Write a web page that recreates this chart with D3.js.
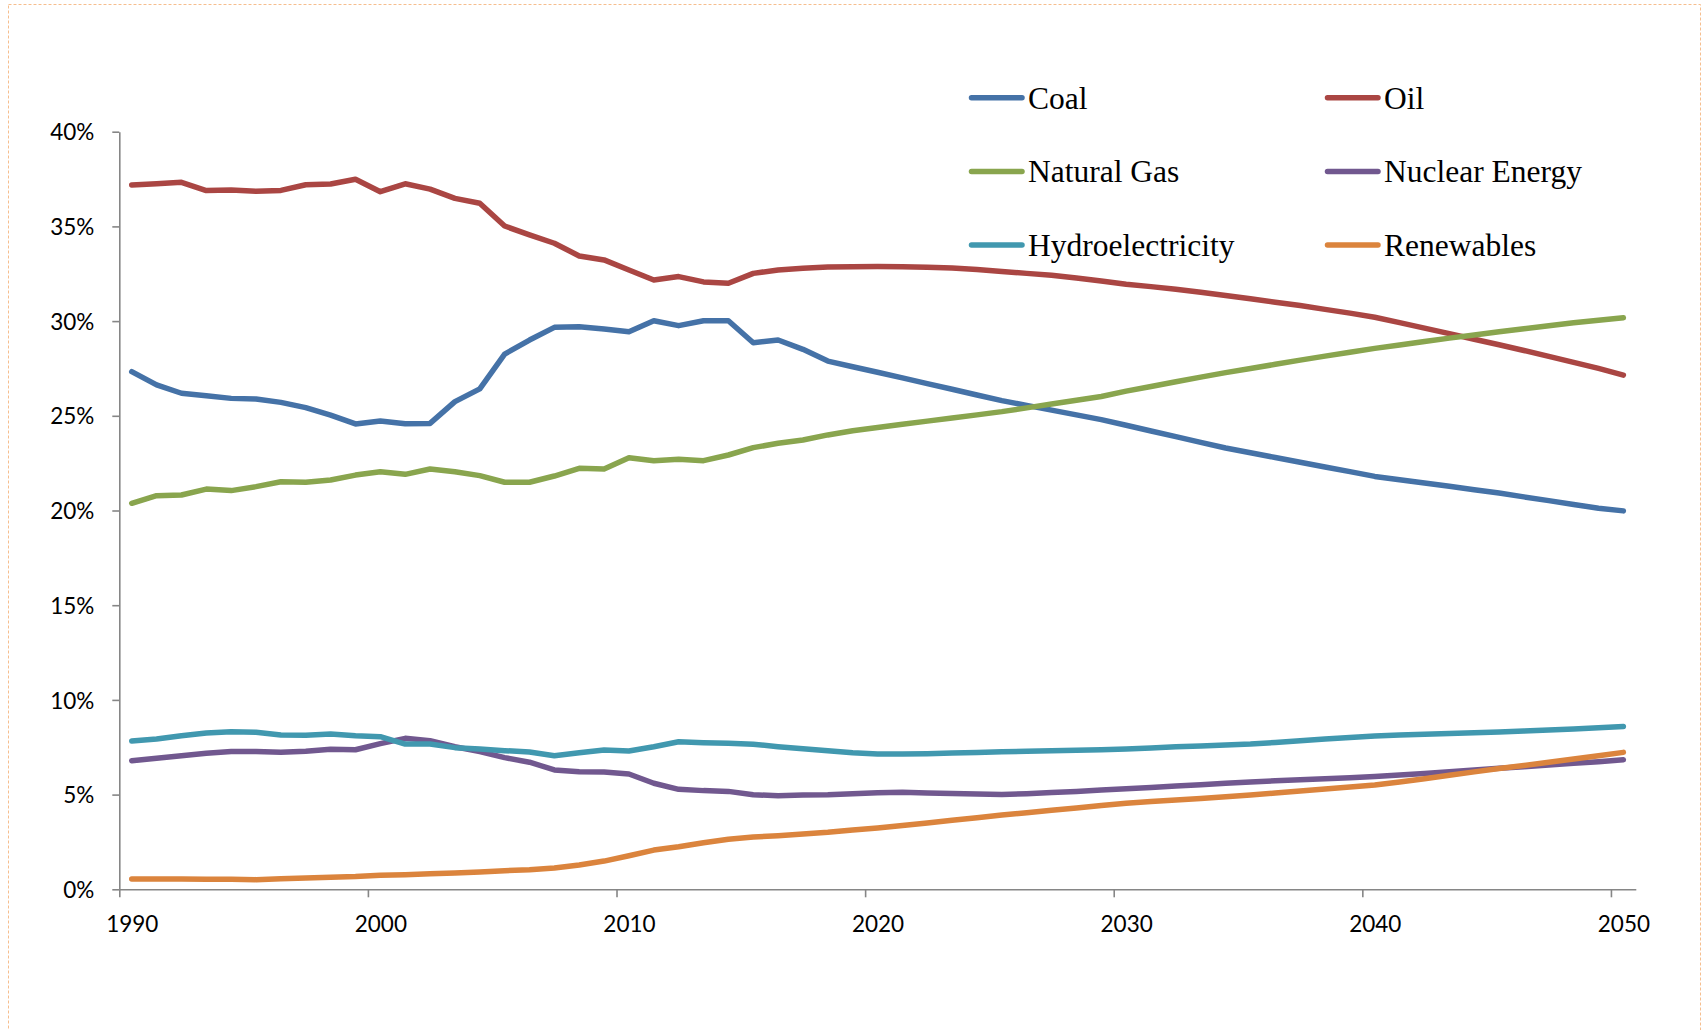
<!DOCTYPE html>
<html>
<head>
<meta charset="utf-8">
<script src="https://cdn.jsdelivr.net/npm/d3@7"></script>
<style>
  html, body { margin: 0; padding: 0; background: #ffffff; }
  svg { display: block; }
</style>
</head>
<body>
<svg id="chart" width="1704" height="1030"></svg>
<script>
// ---- Data ----
const years = d3.range(1990, 2051);

const seriesNames = ["Coal", "Oil", "Natural Gas", "Nuclear Energy", "Hydroelectricity", "Renewables"];
const seriesColors = ["#4572A7", "#AA4643", "#89A54E", "#71588F", "#4198AF", "#DB843D"];

const coal = [
  27.33, 26.63, 26.19, 26.06, 25.92, 25.89, 25.71, 25.43, 25.04, 24.57,
  24.73, 24.58, 24.60, 25.75, 26.42, 28.26, 29.00, 29.67, 29.70, 29.58,
  29.44, 30.02, 29.76, 30.02, 30.02, 28.86, 29.00, 28.51, 27.89, 27.59,
  27.30, 27.00, 26.70, 26.40, 26.10, 25.80, 25.55, 25.30, 25.05, 24.80,
  24.50, 24.20, 23.90, 23.60, 23.30, 23.05, 22.80, 22.55, 22.30, 22.05,
  21.80, 21.62, 21.45, 21.28, 21.10, 20.92, 20.72, 20.52, 20.32, 20.12,
  19.98
];
const oil = [
  37.19, 37.25, 37.33, 36.89, 36.92, 36.85, 36.90, 37.20, 37.24, 37.49,
  36.83, 37.25, 36.97, 36.48, 36.22, 35.02, 34.55, 34.11, 33.44, 33.23,
  32.70, 32.17, 32.35, 32.07, 32.00, 32.52, 32.70, 32.79, 32.86, 32.87,
  32.88, 32.87, 32.84, 32.80, 32.72, 32.62, 32.52, 32.42, 32.28, 32.12,
  31.95, 31.82, 31.68, 31.52, 31.35, 31.18, 31.00, 30.82, 30.62, 30.42,
  30.20, 29.92, 29.63, 29.34, 29.04, 28.75, 28.45, 28.14, 27.82, 27.50,
  27.15
];
const naturalGas = [
  20.38, 20.78, 20.82, 21.13, 21.05, 21.26, 21.52, 21.49, 21.61, 21.87,
  22.05, 21.91, 22.19, 22.05, 21.84, 21.49, 21.49, 21.82, 22.23, 22.19,
  22.79, 22.63, 22.70, 22.63, 22.93, 23.32, 23.55, 23.72, 23.99, 24.21,
  24.38, 24.55, 24.72, 24.88, 25.05, 25.22, 25.42, 25.62, 25.82, 26.02,
  26.30, 26.55, 26.80, 27.04, 27.28, 27.50, 27.72, 27.94, 28.15, 28.36,
  28.56, 28.74, 28.92, 29.10, 29.27, 29.44, 29.60, 29.76, 29.91, 30.05,
  30.18
];
const nuclear = [
  6.79, 6.92, 7.05, 7.18, 7.27, 7.27, 7.23, 7.29, 7.39, 7.37,
  7.69, 7.97, 7.85, 7.53, 7.27, 6.95, 6.71, 6.30, 6.21, 6.19,
  6.09, 5.60, 5.28, 5.21, 5.17, 4.99, 4.94, 4.98, 4.99, 5.05,
  5.10, 5.12, 5.09, 5.06, 5.03, 5.00, 5.05, 5.11, 5.17, 5.24,
  5.31, 5.38, 5.45, 5.52, 5.60, 5.67, 5.73, 5.78, 5.84, 5.89,
  5.95, 6.03, 6.12, 6.21, 6.30, 6.39, 6.47, 6.56, 6.65, 6.74,
  6.84
];
const hydro = [
  7.83, 7.94, 8.11, 8.25, 8.32, 8.29, 8.15, 8.13, 8.20, 8.11,
  8.06, 7.67, 7.67, 7.48, 7.41, 7.32, 7.25, 7.05, 7.21, 7.35,
  7.30, 7.53, 7.79, 7.74, 7.71, 7.66, 7.53, 7.42, 7.32, 7.21,
  7.14, 7.14, 7.16, 7.19, 7.22, 7.26, 7.29, 7.31, 7.34, 7.37,
  7.41, 7.46, 7.52, 7.57, 7.62, 7.67, 7.75, 7.84, 7.93, 8.02,
  8.10, 8.15, 8.19, 8.23, 8.27, 8.31, 8.36, 8.41, 8.46, 8.53,
  8.60
];
const renewables = [
  0.54, 0.54, 0.54, 0.53, 0.53, 0.51, 0.56, 0.60, 0.63, 0.67,
  0.74, 0.77, 0.82, 0.86, 0.91, 0.98, 1.03, 1.12, 1.28, 1.49,
  1.77, 2.07, 2.25, 2.46, 2.64, 2.76, 2.83, 2.92, 3.01, 3.13,
  3.24, 3.37, 3.50, 3.64, 3.78, 3.92, 4.04, 4.17, 4.29, 4.42,
  4.54, 4.63, 4.72, 4.80, 4.89, 4.98, 5.08, 5.19, 5.30, 5.40,
  5.51, 5.67, 5.84, 6.02, 6.20, 6.38, 6.54, 6.71, 6.88, 7.05,
  7.23
];

const yTicks = [0, 5, 10, 15, 20, 25, 30, 35, 40];
const xLabelYears = [1990, 2000, 2010, 2020, 2030, 2040, 2050];

const seriesValues = [coal, oil, naturalGas, nuclear, hydro, renewables];

// ---- Layout ----
const svg = d3.select("#chart");
const axisColor = "#868686";

// outer dotted border (bottom edge lies beyond the picture)
svg.append("rect")
  .attr("x", 8.5).attr("y", 4.5)
  .attr("width", 1692).attr("height", 1040)
  .attr("fill", "none")
  .attr("stroke", "#F6BE8E")
  .attr("stroke-width", 1)
  .attr("stroke-dasharray", "3,2");

const x = d3.scaleLinear().domain([1989.5, 2050.5]).range([119.3, 1635.8]);
const y = d3.scaleLinear().domain([0, 40]).range([889.3, 131.7]);

// Y axis
const yAxis = svg.append("g")
  .attr("transform", `translate(${x(1989.5)},0)`)
  .call(d3.axisLeft(y).tickValues(yTicks).tickFormat(d => d + "%").tickSize(7).tickSizeOuter(0).tickPadding(18));
yAxis.select(".domain").attr("stroke", axisColor).attr("stroke-width", 1.6);
yAxis.selectAll(".tick line").attr("stroke", axisColor).attr("stroke-width", 1.6);
yAxis.selectAll(".tick text")
  .attr("font-family", "Lato, 'Open Sans', sans-serif")
  .attr("font-size", 22.5)
  .attr("fill", "#000")
  .attr("dy", "0.36em");

// X axis tick marks at category boundaries
const boundaryTicks = xLabelYears.slice(0, -1).map(v => v - 0.5).concat([2049.5]);
const xAxis = svg.append("g")
  .attr("transform", `translate(0,${y(0)})`)
  .call(d3.axisBottom(x).tickValues(boundaryTicks).tickFormat("").tickSize(8).tickSizeOuter(0));
xAxis.select(".domain").attr("stroke", axisColor).attr("stroke-width", 1.6);
xAxis.selectAll(".tick line").attr("stroke", axisColor).attr("stroke-width", 1.6);

// X axis labels centered on categories
const xLabels = svg.append("g")
  .attr("transform", `translate(0,${y(0)})`)
  .call(d3.axisBottom(x).tickValues(xLabelYears).tickFormat(d3.format("d")).tickSize(0).tickSizeOuter(0));
xLabels.select(".domain").remove();
xLabels.selectAll(".tick text")
  .attr("font-family", "Lato, 'Open Sans', sans-serif")
  .attr("font-size", 22.5)
  .attr("fill", "#000")
  .attr("y", 43)
  .attr("dy", 0);

// Lines
const line = d3.line()
  .x((d, i) => x(years[i]))
  .y(d => y(d));

seriesValues.forEach((vals, i) => {
  svg.append("path")
    .datum(vals)
    .attr("fill", "none")
    .attr("stroke", seriesColors[i])
    .attr("stroke-width", 5.5)
    .attr("stroke-linejoin", "round")
    .attr("stroke-linecap", "round")
    .attr("d", line);
});

// Legend
const legendCols = [969, 1325];
const legendRows = [97.7, 171.4, 245];
const legend = svg.append("g");
seriesNames.forEach((name, i) => {
  const cx = legendCols[i % 2];
  const cy = legendRows[Math.floor(i / 2)];
  legend.append("line")
    .attr("x1", cx + 2.5).attr("x2", cx + 53)
    .attr("y1", cy).attr("y2", cy)
    .attr("stroke", seriesColors[i])
    .attr("stroke-width", 5.5)
    .attr("stroke-linecap", "round");
  legend.append("text")
    .attr("x", cx + 59)
    .attr("y", cy + 10.8)
    .attr("font-family", "'Liberation Serif', 'Times New Roman', serif")
    .attr("font-size", 31.5)
    .attr("fill", "#000")
    .text(name);
});
</script>
</body>
</html>
